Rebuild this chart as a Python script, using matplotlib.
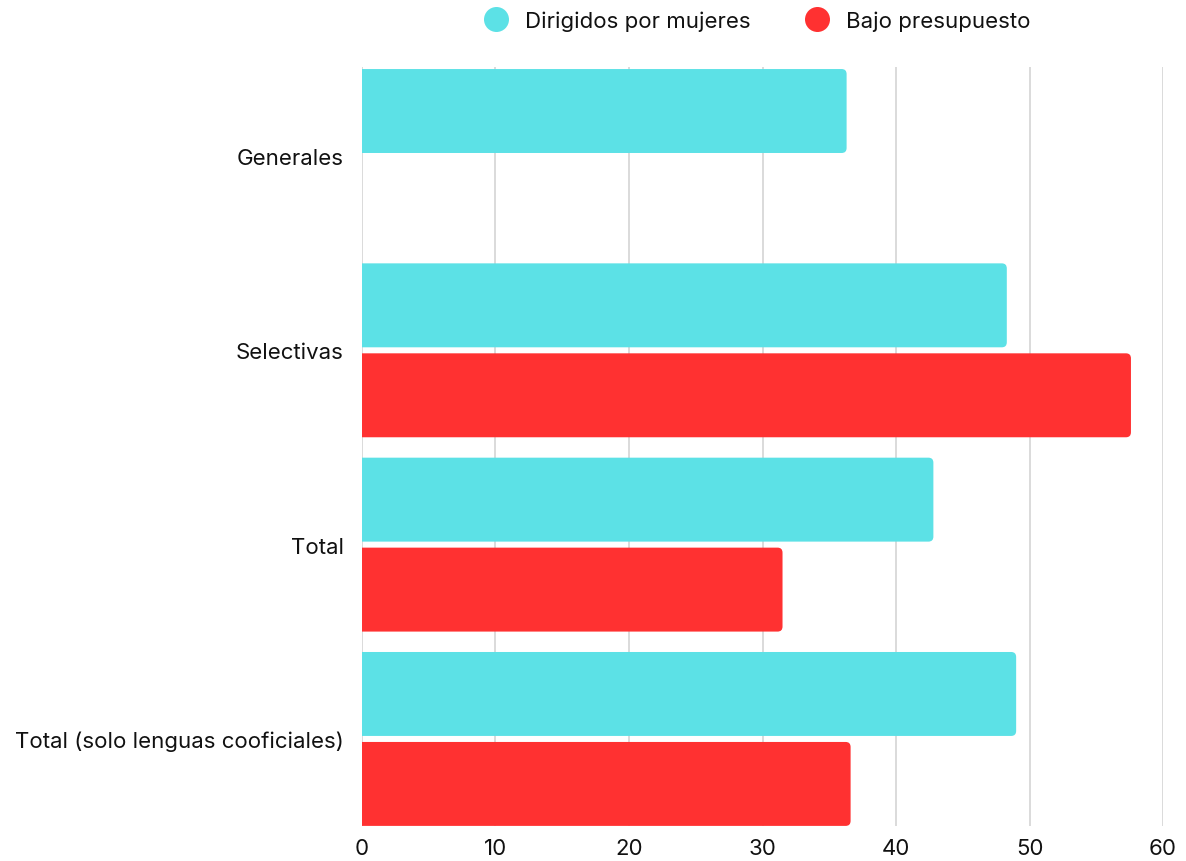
import matplotlib.pyplot as plt
from matplotlib.patches import FancyBboxPatch
from matplotlib.lines import Line2D
import numpy as np

plt.rcParams['font.family'] = ['Inter', 'DejaVu Sans']

categories = ['Generales', 'Selectivas', 'Total', 'Total (solo lenguas cooficiales)']
mujeres = [36.3, 48.3, 42.8, 49.0]
bajo_presupuesto = [np.nan, 57.6, 31.5, 36.6]
series_names = ['Dirigidos por mujeres', 'Bajo presupuesto']
colors = ['#5CE1E6', '#FF3131']
x_ticks = [0, 10, 20, 30, 40, 50, 60]

fig = plt.figure(figsize=(11.86, 8.62), dpi=100)
ax = fig.add_axes([362 / 1186, 1 - 827 / 862, 801 / 1186, 759 / 862])

bar_h = 0.432
gap = 0.031
y = np.arange(len(categories))
offset = (bar_h + gap) / 2


def rounded_barh(ax, ypos, values, color):
    # rounded box that starts left of zero, so the axes clip leaves the left end square
    bars = ax.barh(ypos, values, height=bar_h, color=color)
    rs = 0.37
    aspect = 0.026 / rs
    for b in bars:
        w = b.get_width()
        if not np.isfinite(w) or w <= 0:
            continue
        x0, y0, h = b.get_x(), b.get_y(), b.get_height()
        b.set_visible(False)
        ax.add_patch(FancyBboxPatch((x0 - 1, y0), w + 1, h,
                                    boxstyle=f'round,pad=0,rounding_size={rs}',
                                    mutation_aspect=aspect, fc=color, ec='none', zorder=3))


rounded_barh(ax, y - offset, mujeres, colors[0])
rounded_barh(ax, y + offset, bajo_presupuesto, colors[1])

ax.set_xlim(0, 60)
ax.set_ylim(3 + 0.448, -0.458)
ax.set_xticks(x_ticks)
ax.set_xticklabels([str(t) for t in x_ticks])
ax.set_yticks(y)
ax.set_yticklabels(categories)
ax.tick_params(axis='both', length=0, labelsize=16, colors='#111111')
ax.tick_params(axis='x', pad=9)
ax.tick_params(axis='y', pad=13)
ax.grid(axis='x', color='#d4d4d4', linewidth=1.2, zorder=0)
ax.set_axisbelow(True)
for s in ax.spines.values():
    s.set_visible(False)

handles = [Line2D([], [], marker='o', linestyle='none', markersize=18,
                  markerfacecolor=c, markeredgecolor='none') for c in colors]
fig.legend(handles, series_names, loc='center', bbox_to_anchor=(752 / 1186, 1 - 22 / 862),
           ncol=2, frameon=False, fontsize=16, handletextpad=0.3, columnspacing=2.0,
           labelcolor='#111111')

fig.savefig('out.png', dpi=100)
